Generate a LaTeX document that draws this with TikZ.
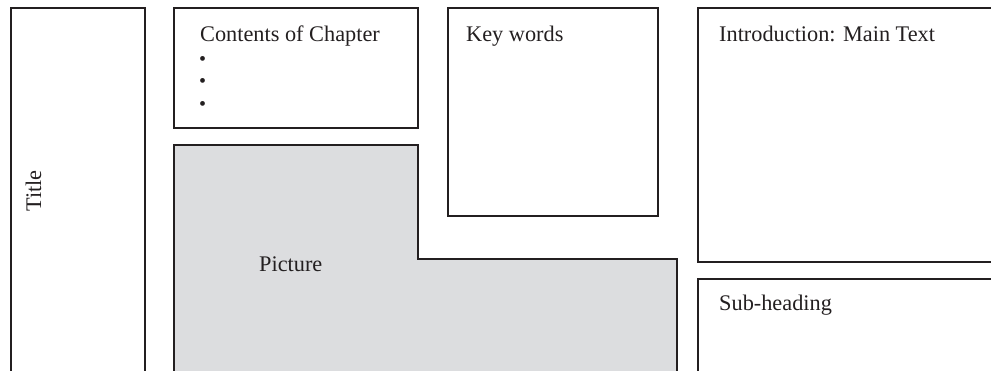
\documentclass[tikz,border=0pt]{standalone}
\usepackage{fontspec}
\setmainfont{Liberation Serif}
\definecolor{ink}{HTML}{231F20}
\definecolor{picfill}{HTML}{DCDDDF}
\begin{document}
\begin{tikzpicture}[x=1pt,y=-1pt,
  boxline/.style={draw=ink,line width=1.8pt},
  lbl/.style={anchor=base west,inner sep=0pt,text=ink,font=\fontsize{22.3}{26}\selectfont},
  bul/.style={anchor=base west,inner sep=0pt,text=ink,font=\fontsize{20}{24}\selectfont}]
\useasboundingbox (0,0) rectangle (991,371);
\clip (0,0) rectangle (991,371);
% Title column
\draw[boxline] (11,8) rectangle (145,390);
% Contents box
\draw[boxline] (174,8) rectangle (418,128);
% Picture (L-shaped)
\draw[boxline,fill=picfill] (174,390) -- (174,145) -- (418,145) -- (418,259) -- (677,259) -- (677,390);
% Key words
\draw[boxline] (448,8) rectangle (658,216);
% Introduction
\draw[boxline] (698,8) rectangle (1000,262);
% Sub-heading
\draw[boxline] (698,279) rectangle (1000,390);
% texts
\node[lbl,rotate=90,anchor=base] (title) at (41,191) {Title};
\node[lbl] (contents) at (200,42) {Contents of Chapter};
\node[bul] (b1) at (199,66) {\textbullet};
\node[bul] (b2) at (199,88) {\textbullet};
\node[bul] (b3) at (199,111) {\textbullet};
\node[lbl] (keywords) at (466,42) {Key words};
\node[lbl] (intro) at (719,42) {Introduction: Main Text};
\node[lbl] (picture) at (259,272) {Picture};
\node[lbl] (sub) at (719,311) {Sub-heading};
\end{tikzpicture}
\end{document}
